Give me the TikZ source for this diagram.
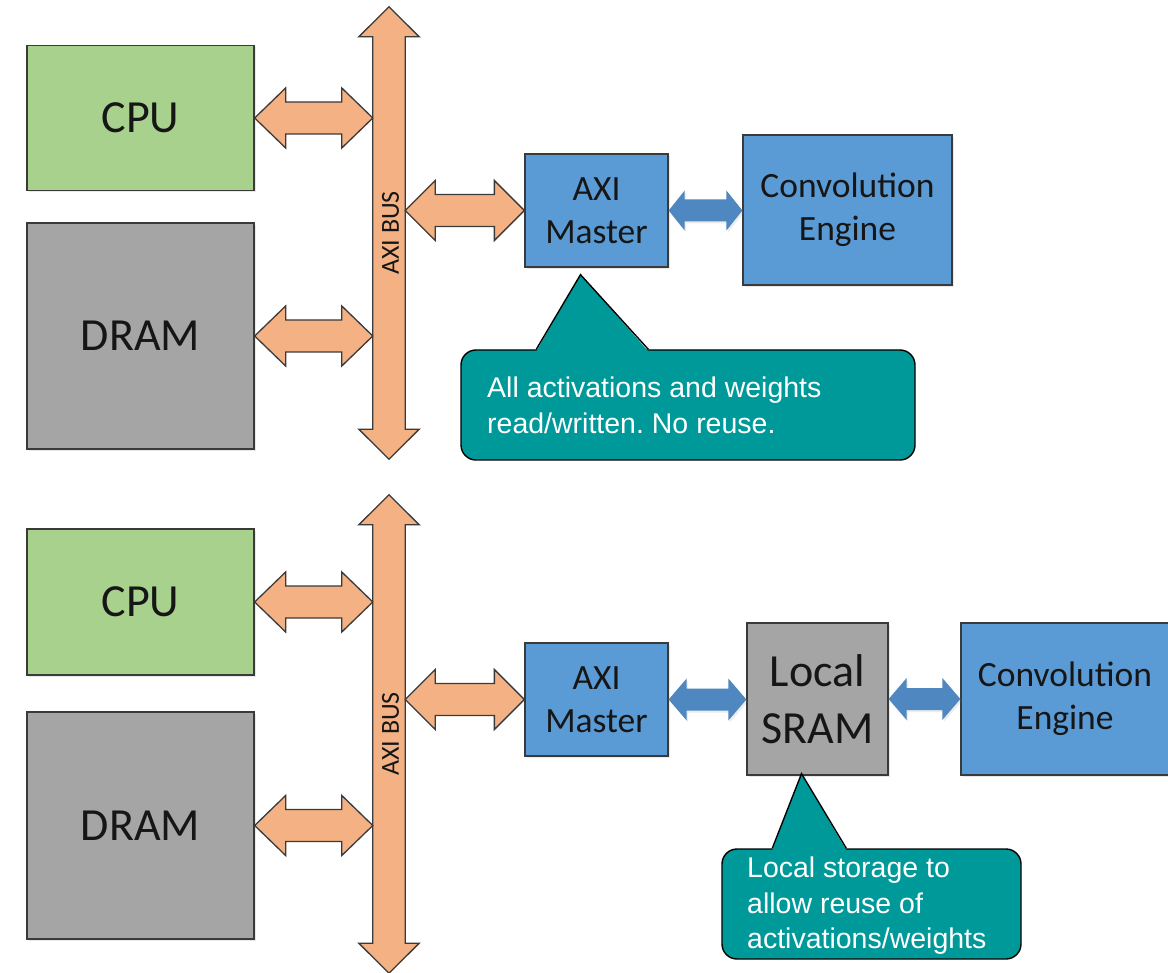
\documentclass[tikz,border=0pt]{standalone}
\usepackage{fontspec}
\setmainfont{Carlito}
\newfontfamily\notefont{Liberation Sans}
\usetikzlibrary{calc,shadows}
\frenchspacing

\definecolor{cpugreen}{HTML}{A9D18E}
\definecolor{memgray}{HTML}{A5A5A5}
\definecolor{boxblue}{HTML}{5B9BD5}
\definecolor{linkblue}{HTML}{4F87C0}
\definecolor{busorange}{HTML}{F4B183}
\definecolor{noteteal}{HTML}{009999}
\definecolor{edgegray}{HTML}{3A3A3A}
\definecolor{textdark}{HTML}{161616}

% fat double-headed link between two points, drawn at the height of the first one
% #1 style, #2 start, #3 end, #4 head half-width, #5 shaft half-width, #6 head length
\newcommand\fatlink[6]{%
  \path[#1] let \p1=(#2), \p2=(#3) in
    (\x1,\y1) -- ({\x1+#6},{\y1+#4}) -- ({\x1+#6},{\y1+#5}) --
    ({\x2-#6},{\y1+#5}) -- ({\x2-#6},{\y1+#4}) -- (\x2,\y1) --
    ({\x2-#6},{\y1-#4}) -- ({\x2-#6},{\y1-#5}) -- ({\x1+#6},{\y1-#5}) --
    ({\x1+#6},{\y1-#4}) -- cycle;}

% vertical bus drawn around its shaft node
\newcommand\busarrow[1]{%
  \draw[buslink] (#1.north west) -- ++(-14,0) -- ($(#1.north)+(0,-30)$) --
    ($(#1.north east)+(14,0)$) -- (#1.north east) -- (#1.south east) --
    ++(14,0) -- ($(#1.south)+(0,30)$) -- ($(#1.south west)+(-14,0)$) --
    (#1.south west) -- cycle;}

\tikzset{
  blk/.style={draw=edgegray, line width=1.3pt, inner sep=0pt, align=center,
    text=textdark, drop shadow={opacity=0.18, shadow xshift=1.5pt, shadow yshift=-2pt}},
  bigtxt/.style={font=\fontsize{46}{57}\selectfont},
  midtxt/.style={font=\fontsize{35.5}{43}\selectfont},
  busshaft/.style={inner sep=0pt, minimum width=32, minimum height=#1},
  buslabel/.style={rotate=90, inner sep=0pt, text=textdark, font=\fontsize{26}{30}\selectfont},
  buslink/.style={fill=busorange, draw=edgegray, line width=1.3pt, line join=miter},
  corelink/.style={fill=linkblue, drop shadow={opacity=0.15, shadow xshift=1.5pt, shadow yshift=-2pt}},
  notebox/.style={fill=noteteal, draw=black, line width=1.4pt, rounded corners=15pt, inner sep=0pt},
  noteedge/.style={draw=black, line width=1.4pt, line join=miter},
  notetext/.style={text=white, align=left, inner sep=0pt, anchor=north west,
    font=\notefont\fontsize{28.5}{35.5}\selectfont}
}

\begin{document}
\begin{tikzpicture}[x=1pt, y=-1pt]
\fill[white] (0,0) rectangle (1168,973);
\useasboundingbox (0,0) rectangle (1168,973);

%% ---------------- upper system: no local storage ----------------
\node[blk, bigtxt, fill=cpugreen, minimum width=227, minimum height=145] (cpu1) at (140.5,118) {CPU};
\node[blk, bigtxt, fill=memgray, minimum width=227, minimum height=226] (dram1) at (140.5,336) {DRAM};
\node[busshaft=392] (bus1) at (389,233) {};
\busarrow{bus1}
\node[buslabel] (bus1txt) at ($(bus1)+(1.5,0)$) {AXI BUS};
\node[blk, midtxt, fill=boxblue, minimum width=143, minimum height=113] (am1) at (596.5,210.5) {AXI\\Master};
\node[blk, midtxt, fill=boxblue, minimum width=209, minimum height=150] (conv1) at (847.5,210) {Convolution\\Engine};

\fatlink{buslink}{cpu1.east}{bus1.west |- cpu1.east}{30pt}{16pt}{31pt}
\fatlink{buslink}{dram1.east}{bus1.west |- dram1.east}{30pt}{16pt}{31pt}
\fatlink{buslink}{bus1.east |- am1.west}{am1.west}{30pt}{16pt}{30pt}
\fatlink{corelink}{am1.east}{conv1.west}{20pt}{11pt}{16pt}

\node[notebox, minimum width=454, minimum height=110] (note1) at (688,405) {};
\coordinate (tip1) at ($(am1.south)+(-16,7)$);
\fill[noteteal] ($(note1.north west)+(76,2)$) -- (tip1) -- ($(note1.north west)+(188,2)$) -- cycle;
\draw[noteedge] ($(note1.north west)+(76,0)$) -- (tip1) -- ($(note1.north west)+(188,0)$);
\node[notetext] (note1txt) at (487,377) {All activations and weights\\read/written. No reuse.};

%% ---------------- lower system: with local SRAM ----------------
\node[blk, bigtxt, fill=cpugreen, minimum width=227, minimum height=146] (cpu2) at (140.5,602) {CPU};
\node[blk, bigtxt, fill=memgray, minimum width=227, minimum height=227] (dram2) at (140.5,825.5) {DRAM};
\node[busshaft=418] (bus2) at (389,734) {};
\busarrow{bus2}
\node[buslabel] (bus2txt) at ($(bus2)+(1.5,0)$) {AXI BUS};
\node[blk, midtxt, fill=boxblue, minimum width=143, minimum height=113] (am2) at (596.5,699.5) {AXI\\Master};
\node[blk, bigtxt, fill=memgray, minimum width=141, minimum height=152] (sram) at (817.5,699) {Local\\SRAM};
\node[blk, midtxt, fill=boxblue, minimum width=208, minimum height=152] (conv2) at (1065,699) {Convolution\\Engine};

\fatlink{buslink}{cpu2.east}{bus2.west |- cpu2.east}{30pt}{16pt}{31pt}
\fatlink{buslink}{dram2.east}{bus2.west |- dram2.east}{30pt}{16pt}{31pt}
\fatlink{buslink}{bus2.east |- am2.west}{am2.west}{30pt}{16pt}{30pt}
\fatlink{corelink}{am2.east}{sram.west}{21pt}{11pt}{18pt}
\fatlink{corelink}{sram.east}{conv2.west}{21pt}{11pt}{18pt}

\node[notebox, minimum width=299, minimum height=110] (note2) at (871.5,904) {};
\coordinate (tip2) at ($(sram.south)+(-16,-2)$);
\fill[noteteal] ($(note2.north west)+(51,2)$) -- (tip2) -- ($(note2.north west)+(125,2)$) -- cycle;
\draw[noteedge] ($(note2.north west)+(51,0)$) -- (tip2) -- ($(note2.north west)+(125,0)$);
\node[notetext] (note2txt) at (747,857) {Local storage to\\allow reuse of\\activations/weights};
\end{tikzpicture}
\end{document}
